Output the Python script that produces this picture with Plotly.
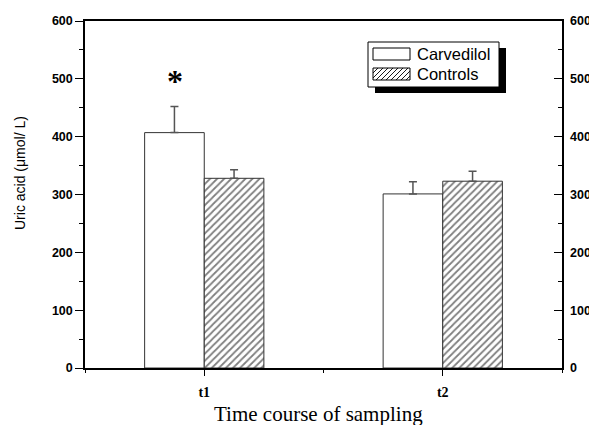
import plotly.graph_objects as go

# ---- data ----
categories = ["t1", "t2"]
cat_pos = [1, 2]
carvedilol = [407, 301]
carvedilol_err = [45, 21]
controls = [328, 323]
controls_err = [15, 17]
y_ticks = [0, 100, 200, 300, 400, 500, 600]
legend_names = ["Carvedilol", "Controls"]

# ---- geometry (pixels) ----
W, H = 589, 425
L, R, T, B = 85, 562, 21, 368
PW, PH = R - L, B - T


def px(x):
    return (x - L) / PW


def py(y):
    return (B - y) / PH


SANS = "Liberation Sans"
SERIF = "Liberation Serif"

fig = go.Figure()
fig.add_bar(
    x=cat_pos, y=carvedilol, name=legend_names[0],
    marker=dict(color="white", line=dict(color="#333", width=1)),
    error_y=dict(type="data", array=carvedilol_err, arrayminus=[0] * len(carvedilol),
                 symmetric=False, color="#555", thickness=1.5, width=4),
    showlegend=False,
)
fig.add_bar(
    x=cat_pos, y=controls, name=legend_names[1],
    marker=dict(color="white", line=dict(color="#333", width=1),
                pattern=dict(shape="/", fgcolor="black", bgcolor="white", size=5, solidity=0.35)),
    error_y=dict(type="data", array=controls_err, arrayminus=[0] * len(controls),
                 symmetric=False, color="#555", thickness=1.5, width=4),
    showlegend=False,
)
# invisible trace to activate right axis
fig.add_scatter(x=[cat_pos[0]], y=[carvedilol[0]], yaxis="y2", mode="markers",
                marker=dict(opacity=0), showlegend=False, hoverinfo="skip")

tickfont_y = dict(family=SANS, size=12.5, color="black", weight="bold")

fig.update_layout(
    width=W, height=H,
    margin=dict(l=L, r=W - R, t=T, b=H - B, autoexpand=False),
    paper_bgcolor="white", plot_bgcolor="white",
    barmode="group", bargap=0.5, bargroupgap=0,
    xaxis=dict(
        range=[0.5, 2.5], tickvals=cat_pos, ticktext=categories,
        ticks="outside", ticklen=6, tickwidth=1.2, tickcolor="black",
        showline=True, linecolor="black", linewidth=1.5, mirror=True,
        showgrid=False, zeroline=False,
        minor=dict(tickvals=[0.5, 1.5, 2.5], ticks="outside", ticklen=3,
                   tickwidth=1.2, tickcolor="black", showgrid=False),
        tickfont=dict(family=SERIF, size=14, color="black", weight="bold"),
        ticklabelstandoff=4,
    ),
    yaxis=dict(
        range=[0, 600], tickvals=y_ticks,
        ticks="outside", ticklen=8, tickwidth=1.2, tickcolor="black",
        showline=True, linecolor="black", linewidth=1.5, mirror=True,
        showgrid=False, zeroline=False,
        minor=dict(dtick=50, ticks="outside", ticklen=4, tickwidth=1.2,
                   tickcolor="black", showgrid=False),
        tickfont=tickfont_y,
    ),
    yaxis2=dict(
        range=[0, 600], tickvals=y_ticks, overlaying="y", side="right",
        ticks="inside", ticklen=8, tickwidth=1.2, tickcolor="black",
        showline=False, showgrid=False, zeroline=False,
        minor=dict(dtick=50, ticks="inside", ticklen=4, tickwidth=1.2,
                   tickcolor="black", showgrid=False),
        tickfont=tickfont_y, ticklabelstandoff=7,
    ),
)

shapes = []
annotations = []

# legend: shadow, box, swatches
bx0, bx1, by0, by1 = 368, 499, 42, 87
sh = 7
shapes.append(dict(type="rect", xref="paper", yref="paper",
                   x0=px(bx0 + sh), x1=px(bx1 + sh), y0=py(by1 + sh - 1), y1=py(by0 + sh - 1),
                   fillcolor="black", line=dict(width=0), layer="above"))
shapes.append(dict(type="rect", xref="paper", yref="paper",
                   x0=px(bx0), x1=px(bx1), y0=py(by1), y1=py(by0),
                   fillcolor="white", line=dict(color="black", width=1), layer="above"))
sx0, sx1 = 373, 410
sw = [(48, 60), (68, 80)]
for (sy0, sy1) in sw:
    shapes.append(dict(type="rect", xref="paper", yref="paper",
                       x0=px(sx0), x1=px(sx1), y0=py(sy1), y1=py(sy0),
                       fillcolor="white", line=dict(color="black", width=1), layer="above"))
# hatch in second swatch ("/" lines)
sy0, sy1 = sw[1]
Y0, Y1 = -sy1, -sy0
c = sx0 - Y1 - 40
while c < sx1 - Y0:
    xs = max(sx0, c + Y0)
    xe = min(sx1, c + Y1)
    if xe - xs > 0.5:
        shapes.append(dict(type="line", xref="paper", yref="paper",
                           x0=px(xs), y0=py(-(xs - c)), x1=px(xe), y1=py(-(xe - c)),
                           line=dict(color="black", width=0.9), layer="above"))
    c += 5
for name, (sy0, sy1) in zip(legend_names, sw):
    annotations.append(dict(xref="paper", yref="paper", x=px(415), y=py((sy0 + sy1) / 2),
                            text=name, showarrow=False, xanchor="left", yanchor="middle",
                            font=dict(family=SANS, size=16.5, color="black")))

# significance asterisk above Carvedilol t1
annotations.append(dict(xref="paper", yref="paper", x=px(175), y=py(81),
                        text="*", showarrow=False, xanchor="center", yanchor="middle",
                        font=dict(family=SERIF, size=32, color="black", weight="bold")))

# axis titles
annotations.append(dict(xref="paper", yref="paper", x=px(20), y=py(173),
                        text="Uric acid (μmol/ L)", showarrow=False, textangle=-90,
                        xanchor="center", yanchor="middle",
                        font=dict(family=SANS, size=14, color="black")))
annotations.append(dict(xref="paper", yref="paper", x=px(318), y=py(414),
                        text="Time course of sampling", showarrow=False,
                        xanchor="center", yanchor="middle",
                        font=dict(family=SERIF, size=21, color="black")))

fig.update_layout(shapes=shapes, annotations=annotations)
fig.write_html("out.html", config={"displayModeBar": False},
               post_script="document.body.style.margin='0px';document.body.style.overflow='hidden';")
